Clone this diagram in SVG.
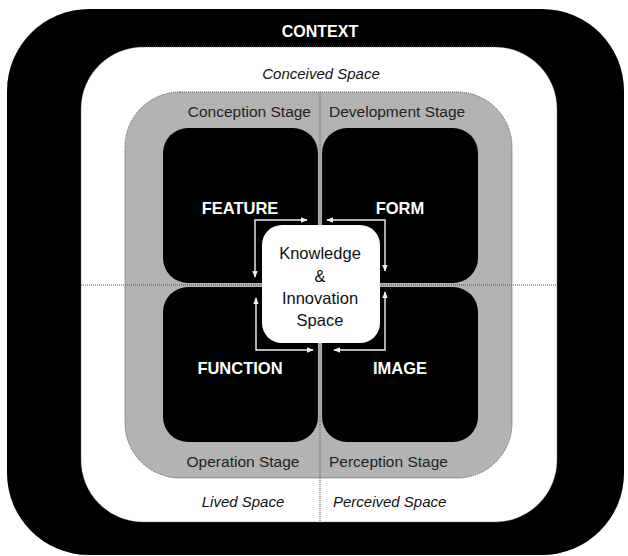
<svg xmlns="http://www.w3.org/2000/svg" width="628" height="556" viewBox="0 0 628 556">
  <style>
    text { font-family: "Liberation Sans", Arial, sans-serif; }
    .ctx { fill: #fff; font-weight: bold; font-size: 16px; text-anchor: middle; }
    .space { fill: #111; font-style: italic; font-size: 15px; }
    .stage { fill: #222; font-size: 15.5px; }
    .node-label { fill: #fff; font-weight: bold; font-size: 16.5px; text-anchor: middle; }
    .kis { fill: #111; font-size: 16.5px; text-anchor: middle; }
    .dot { fill: none; stroke: #555; stroke-width: 1; stroke-dasharray: 1 1; }
    .node { fill: #000; }
    .conn { fill: none; stroke: #f2f2f2; stroke-width: 1.4; marker-start: url(#ah); marker-end: url(#ah); }
  </style>
  <defs>
    <marker id="ah" viewBox="0 0 10 10" refX="9" refY="5" markerUnits="userSpaceOnUse" markerWidth="7" markerHeight="7" orient="auto-start-reverse">
      <path d="M0,1 L10,5 L0,9 Z" fill="#f2f2f2"/>
    </marker>
  </defs>
  <rect width="628" height="556" fill="#fff"/>

  <g id="context">
    <rect x="7" y="9" width="617" height="546" rx="82" ry="82" fill="#000"/>
    <text class="ctx" x="320" y="37">CONTEXT</text>
  </g>

  <g id="spaces">
    <rect x="81" y="47" width="476" height="475" rx="62" ry="62" fill="#fff" stroke="#666" stroke-width="0.8" stroke-dasharray="1 1"/>
    <text class="space" x="321" y="79" text-anchor="middle">Conceived Space</text>
    <text class="space" x="243" y="507" text-anchor="middle">Lived Space</text>
    <text class="space" x="333" y="507">Perceived Space</text>
  </g>

  <g id="stages">
    <rect x="125" y="92" width="387" height="386" rx="55" ry="55" fill="#b3b3b3" stroke="#555" stroke-width="1" stroke-dasharray="1 1"/>
    <line class="dot" x1="320" y1="92" x2="320" y2="522"/>
    <line class="dot" x1="81" y1="285" x2="557" y2="285"/>
    <text class="stage" x="311" y="117" text-anchor="end">Conception Stage</text>
    <text class="stage" x="329" y="117">Development Stage</text>
    <text class="stage" x="243" y="467" text-anchor="middle">Operation Stage</text>
    <text class="stage" x="329" y="467">Perception Stage</text>
  </g>

  <g id="feature">
    <rect class="node" x="163" y="128" width="155" height="155" rx="25" ry="25"/>
    <text class="node-label" x="240" y="214">FEATURE</text>
  </g>
  <g id="form">
    <rect class="node" x="322" y="128" width="156" height="155" rx="25" ry="25"/>
    <text class="node-label" x="400" y="214">FORM</text>
  </g>
  <g id="function">
    <rect class="node" x="163" y="287" width="155" height="155" rx="25" ry="25"/>
    <text class="node-label" x="240" y="374">FUNCTION</text>
  </g>
  <g id="image">
    <rect class="node" x="322" y="287" width="156" height="155" rx="25" ry="25"/>
    <text class="node-label" x="400" y="374">IMAGE</text>
  </g>

  <g id="knowledge">
    <rect x="262" y="225" width="118" height="118" rx="20" ry="20" fill="#fff"/>
    <text class="kis" x="320" y="259">Knowledge</text>
    <text class="kis" x="320" y="282">&amp;</text>
    <text class="kis" x="320" y="304">Innovation</text>
    <text class="kis" x="320" y="326">Space</text>
  </g>

  <g id="connectors">
    <path class="conn" d="M307,220 H255 V277"/>
    <path class="conn" d="M327,220 H385 V271"/>
    <path class="conn" d="M256,298 V350 H313"/>
    <path class="conn" d="M334,350 H385 V292"/>
  </g>
</svg>
